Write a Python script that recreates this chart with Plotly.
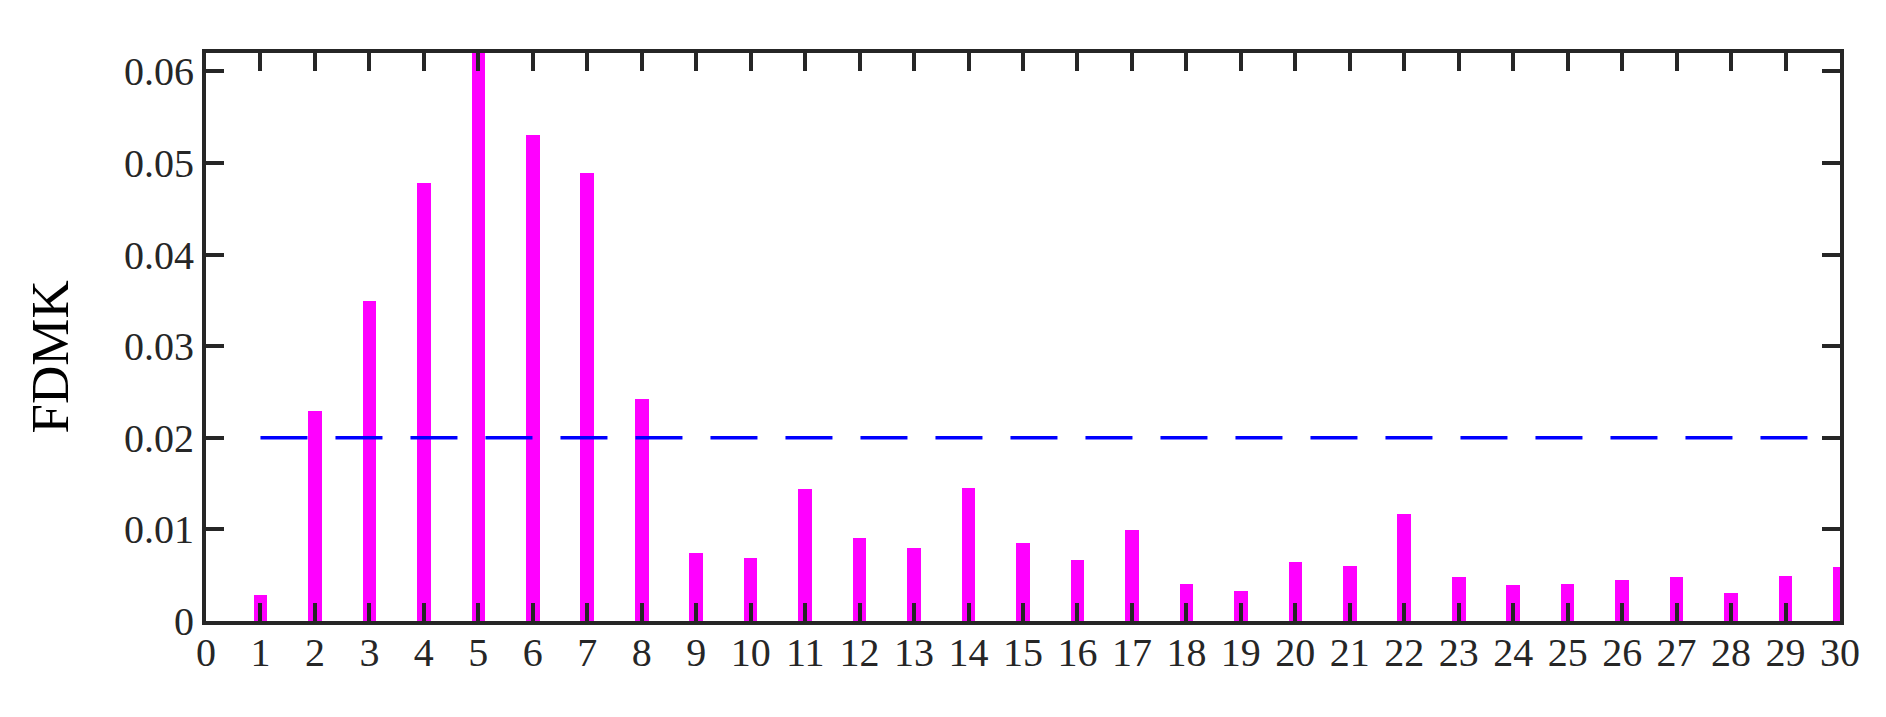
import plotly.graph_objects as go

# Data
components = list(range(1, 31))
fdmk = [0.0028, 0.0229, 0.0349, 0.0478, 0.0620, 0.0530, 0.0489, 0.0242, 0.0074, 0.0069,
        0.0144, 0.0091, 0.0080, 0.0145, 0.0085, 0.0067, 0.0099, 0.0040, 0.0033, 0.0064,
        0.0060, 0.0117, 0.0048, 0.0039, 0.0040, 0.0045, 0.0048, 0.0031, 0.0049, 0.0059]
threshold_x = [1, 30]
threshold_y = [0.02, 0.02]
x_tickvals = list(range(0, 31))
y_tickvals = [0, 0.01, 0.02, 0.03, 0.04, 0.05, 0.06]
y_ticktext = ["0", "0.01", "0.02", "0.03", "0.04", "0.05", "0.06"]
y_title = "FDMK"

axis_color = "#262626"
font_family = "Liberation Serif"

fig = go.Figure()
fig.add_trace(go.Bar(
    x=components, y=fdmk, width=0.25,
    marker=dict(color="#FF00FF", line=dict(width=0)),
    cliponaxis=False, showlegend=False, hoverinfo="x+y",
))
fig.add_trace(go.Scatter(
    x=threshold_x, y=threshold_y, mode="lines",
    line=dict(color="#0000FF", width=3.5, dash="47px,28px"),
    showlegend=False,
))

fig.update_layout(
    width=1870, height=701,
    margin=dict(l=198, r=38, t=45, b=88),
    paper_bgcolor="white", plot_bgcolor="white",
    font=dict(family=font_family, color=axis_color, size=40),
    bargap=0,
)
fig.update_xaxes(
    range=[0, 30], tickvals=x_tickvals,
    showgrid=False, zeroline=False,
    showline=True, linecolor=axis_color, linewidth=4, mirror="ticks",
    ticks="inside", ticklen=18, tickwidth=4, tickcolor=axis_color,
    tickfont=dict(family=font_family, size=40, color=axis_color),
    ticklabelstandoff=-7,
)
fig.update_yaxes(
    range=[0, 0.062], tickvals=y_tickvals, ticktext=y_ticktext,
    showgrid=False, zeroline=False,
    showline=True, linecolor=axis_color, linewidth=4, mirror="ticks",
    ticks="inside", ticklen=18, tickwidth=4, tickcolor=axis_color,
    tickfont=dict(family=font_family, size=40, color=axis_color),
)
fig.add_annotation(
    text=y_title, textangle=-90, showarrow=False,
    xref="paper", yref="paper", x=-0.0949, y=0.4657,
    xanchor="center", yanchor="middle",
    font=dict(family=font_family, size=53, color="black"),
)

fig.write_html("out.html")
